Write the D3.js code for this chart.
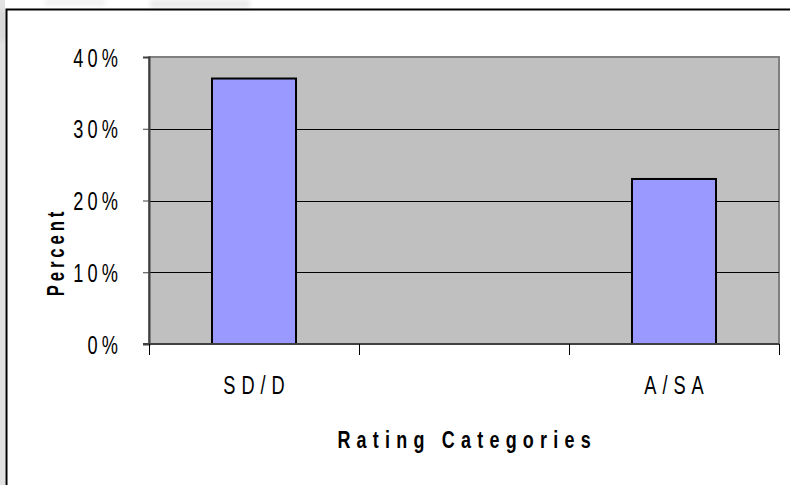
<!DOCTYPE html>
<html>
<head>
<meta charset="utf-8">
<script src="https://cdn.jsdelivr.net/npm/d3@7/dist/d3.min.js"></script>
<style>
  html, body { margin: 0; padding: 0; background: #ffffff; }
  svg { display: block; }
  text { font-family: "Liberation Sans", Arial, sans-serif; fill: #000; }
</style>
</head>
<body>
<svg id="chart" width="790" height="485"></svg>
<script>
// Rating categories and the share of responses in each (percent)
const categories = ["SD/D", "N", "A/SA"];
const categoryLabels = ["SD/D", "", "A/SA"];
const percents = [37, null, 23];
const yTicks = [0, 10, 20, 30, 40];

const W = 790, H = 485;
const plot = { left: 149, top: 57, right: 779, bottom: 344 };

const svg = d3.select("#chart");

// draws condensed, letter-spaced text anchored at (x, y)
function narrowText(parent, x, y, str, opts) {
  const o = Object.assign({ size: 24, weight: "normal", spacing: 4, anchor: "middle", rotate: 0, squeeze: 0.7 }, opts);
  const g = parent.append("g")
    .attr("transform", `translate(${x},${y}) rotate(${o.rotate}) scale(${o.squeeze},1)`);
  const shift = o.anchor === "middle" ? o.spacing / 2 : o.anchor === "end" ? o.spacing : 0;
  g.append("text")
    .attr("x", shift).attr("y", 0)
    .attr("text-anchor", o.anchor)
    .style("font-size", o.size + "px")
    .style("font-weight", o.weight)
    .style("letter-spacing", o.spacing + "px")
    .text(str);
  return g;
}

// page backdrop: grey margin strip and faint smudges outside the frame
svg.append("rect").attr("x", 0).attr("y", 0).attr("width", 5).attr("height", H).attr("fill", "#e2e2e2");
const smudge = svg.append("g").style("filter", "blur(2px)");
smudge.append("rect").attr("x", 45).attr("y", 0).attr("width", 60).attr("height", 5).attr("fill", "#eeeeee");
smudge.append("rect").attr("x", 150).attr("y", 0).attr("width", 100).attr("height", 8).attr("fill", "#ebebeb");
smudge.append("rect").attr("x", 0).attr("y", 10).attr("width", 5).attr("height", 30).attr("fill", "#d4d4d4");

// chart frame
svg.append("path")
  .attr("d", `M6.5,${H} V9.5 H${W}`)
  .attr("fill", "none").attr("stroke", "#000").attr("stroke-width", 2);

const x = d3.scaleBand().domain(categories).range([plot.left, plot.right]).paddingInner(0.6).paddingOuter(0.3);
const y = d3.scaleLinear().domain([0, 40]).range([plot.bottom, plot.top]);

// plot area
svg.append("rect")
  .attr("x", plot.left).attr("y", plot.top)
  .attr("width", plot.right - plot.left).attr("height", plot.bottom - plot.top)
  .attr("fill", "#c0c0c0").attr("stroke", "#808080").attr("stroke-width", 2);

// horizontal gridlines
svg.append("g").selectAll("line")
  .data(yTicks.filter(t => t > 0 && t < 40))
  .join("line")
  .attr("x1", plot.left).attr("x2", plot.right)
  .attr("y1", d => Math.round(y(d)) + 0.5).attr("y2", d => Math.round(y(d)) + 0.5)
  .attr("stroke", "#000").attr("stroke-width", 1);

// bars
svg.append("g").selectAll("rect")
  .data(categories.map((c, i) => ({ c, v: percents[i] })).filter(d => d.v != null))
  .join("rect")
  .attr("x", d => x(d.c)).attr("y", d => y(d.v))
  .attr("width", x.bandwidth()).attr("height", d => y(0) - y(d.v))
  .attr("fill", "#9999ff").attr("stroke", "#000").attr("stroke-width", 2);

// y axis line and ticks
const yAxis = svg.append("g")
  .attr("transform", `translate(${plot.left},0)`)
  .call(d3.axisLeft(y).tickValues(yTicks).tickSize(6).tickFormat(""));
yAxis.select(".domain").attr("stroke", "#404040").attr("stroke-width", 2);
yAxis.selectAll(".tick line").attr("stroke", "#404040");

// y tick labels
const yLab = svg.append("g");
yTicks.forEach(t => narrowText(yLab, 118, y(t) + 9.5, t + "%", { size: 26, anchor: "end", spacing: 6 }));

// x axis: baseline, boundary ticks and category names
const boundaries = d3.range(categories.length + 1).map(i => plot.left + i * (plot.right - plot.left) / categories.length);
const xg = svg.append("g");
xg.append("line")
  .attr("x1", plot.left - 6).attr("x2", plot.right)
  .attr("y1", plot.bottom).attr("y2", plot.bottom)
  .attr("stroke", "#404040").attr("stroke-width", 2);
xg.selectAll("line.tick")
  .data(boundaries)
  .join("line").attr("class", "tick")
  .attr("x1", d => Math.round(d) + 0.5).attr("x2", d => Math.round(d) + 0.5)
  .attr("y1", plot.bottom).attr("y2", plot.bottom + 11)
  .attr("stroke", "#000").attr("stroke-width", 1);
categories.forEach((c, i) => {
  if (categoryLabels[i]) narrowText(xg, x(c) + x.bandwidth() / 2, 394, categoryLabels[i], { size: 26, spacing: 8.5 });
});

// axis titles
narrowText(svg, 64, 254, "Percent", { size: 24, weight: "bold", spacing: 5.5, rotate: -90 });
narrowText(svg, 464, 448, "Rating Categories", { size: 23, weight: "bold", spacing: 8, squeeze: 0.78 });
</script>
</body>
</html>
